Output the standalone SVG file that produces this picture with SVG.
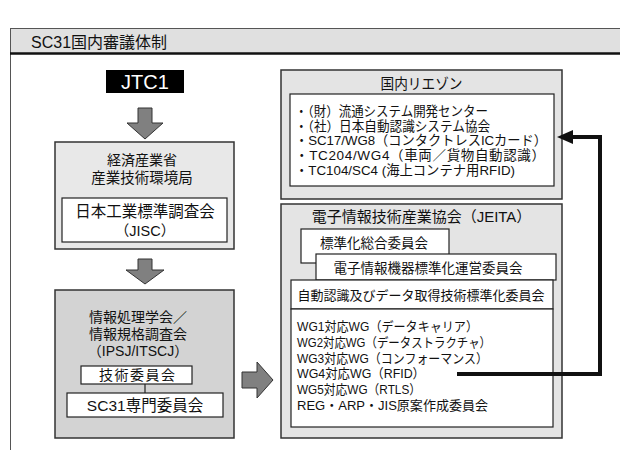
<svg xmlns="http://www.w3.org/2000/svg" width="620" height="450" viewBox="0 0 620 450">
<defs>
<style>
text{font-family:'Liberation Sans','Noto Sans CJK JP',sans-serif;fill:#111}
.c{text-anchor:middle}
.gbox{stroke:#333;stroke-width:1.5}
.wbox{fill:#fff;stroke:#222;stroke-width:1.2}
.blk{fill:#808080;stroke:#333;stroke-width:1}
.t15{font-size:15px}
.t14{font-size:14px}
.t13{font-size:13px}
.t135{font-size:13.5px}
</style>
<marker id="ah" markerUnits="userSpaceOnUse" markerWidth="16" markerHeight="14" viewBox="0 0 16 14" refX="2" refY="7" orient="auto">
<path d="M0,0 L16,7 L0,14 z" fill="#111"/>
</marker>
</defs>
<rect width="620" height="450" fill="#fff"/>
<g id="frame">
<rect x="10.5" y="28.5" width="620" height="25" fill="#e0e0e0" stroke="#555" stroke-width="1"/>
<line x1="10.5" y1="28" x2="10.5" y2="450" stroke="#555" stroke-width="1"/>
<line x1="10" y1="53.5" x2="620" y2="53.5" stroke="#111" stroke-width="2.5"/>
<text x="31" y="48" style="font-size:16px">SC31国内審議体制</text>
</g>
<g id="jtc1">
<rect x="106" y="70" width="78" height="23" fill="#000"/>
<text x="145" y="89" class="c" style="font-size:20px;fill:#fff">JTC1</text>
</g>
<g id="meti">
<rect x="55" y="142" width="179" height="107" fill="#e8e8e8" class="gbox"/>
<text x="142" y="165" class="c" style="font-size:14px">経済産業省</text>
<text x="142" y="183" class="c" style="font-size:14.5px">産業技術環境局</text>
<rect x="62" y="198" width="165" height="44" class="wbox"/>
<text x="145" y="217" class="c" style="font-size:15.5px">日本工業標準調査会</text>
<text x="145" y="236" class="c" style="font-size:14.5px">（JISC）</text>
</g>
<g id="ipsj">
<rect x="55" y="290" width="179" height="148" fill="#d3d3d3" class="gbox"/>
<text x="138" y="322" class="c t14">情報処理学会／</text>
<text x="138" y="339" class="c t14">情報規格調査会</text>
<text x="138" y="356" class="c t14">（IPSJ/ITSCJ）</text>
<rect x="81" y="366" width="111" height="18" class="wbox"/>
<text x="137" y="380" class="c t14" textLength="76" lengthAdjust="spacing">技術委員会</text>
<rect x="67" y="393" width="156" height="24" class="wbox"/>
<text x="145" y="411" class="c" style="font-size:15.5px">SC31専門委員会</text>
</g>
<g id="liaison">
<rect x="281" y="70" width="281" height="129" fill="#e4e4e4" class="gbox"/>
<text x="421.5" y="89" class="c t15" textLength="82" lengthAdjust="spacingAndGlyphs">国内リエゾン</text>
<rect x="290" y="94" width="264" height="92" class="wbox"/>
<text x="295" y="116" class="t135" textLength="193" lengthAdjust="spacingAndGlyphs">・（財）流通システム開発センター</text>
<text x="295" y="131" class="t135" textLength="195" lengthAdjust="spacingAndGlyphs">・（社）日本自動認識システム協会</text>
<text x="295" y="145" class="t135" textLength="252" lengthAdjust="spacingAndGlyphs">・SC17/WG8（コンタクトレスICカード）</text>
<text x="295" y="160" class="t135" textLength="250" lengthAdjust="spacing">・TC204/WG4（車両／貨物自動認識）</text>
<text x="295" y="175" class="t135" textLength="220" lengthAdjust="spacingAndGlyphs">・TC104/SC4 (海上コンテナ用RFID)</text>
</g>
<g id="jeita">
<rect x="281" y="204" width="281" height="234" fill="#e4e4e4" class="gbox"/>
<text x="421.5" y="222" class="c t15">電子情報技術産業協会（JEITA）</text>
<rect x="301" y="229" width="148" height="34" class="wbox"/>
<text x="374" y="248" class="c t135">標準化総合委員会</text>
<rect x="316" y="254" width="240" height="26" class="wbox"/>
<text x="428" y="273" class="c t135">電子情報機器標準化運営委員会</text>
<rect x="291" y="280" width="262" height="29" class="wbox"/>
<text x="421" y="300" class="c t13">自動認識及びデータ取得技術標準化委員会</text>
<rect x="291" y="309" width="262" height="118" class="wbox"/>
<text x="297" y="331" class="t13" textLength="181" lengthAdjust="spacingAndGlyphs">WG1対応WG（データキャリア）</text>
<text x="297" y="347" class="t13" textLength="194" lengthAdjust="spacingAndGlyphs">WG2対応WG（データストラクチャ）</text>
<text x="297" y="363" class="t13" textLength="191" lengthAdjust="spacingAndGlyphs">WG3対応WG（コンフォーマンス）</text>
<text x="297" y="378" class="t13" textLength="128" lengthAdjust="spacingAndGlyphs">WG4対応WG（RFID）</text>
<text x="297" y="394" class="t13" textLength="124" lengthAdjust="spacingAndGlyphs">WG5対応WG（RTLS）</text>
<text x="297" y="410" class="t13" textLength="191" lengthAdjust="spacingAndGlyphs">REG・ARP・JIS原案作成委員会</text>
</g>
<g id="connectors">
<polygon class="blk" points="138,108 152,108 152,123 163,123 145,139 127,123 138,123"/>
<polygon class="blk" points="138,259 152,259 152,270 164,270 145,284 126,270 138,270"/>
<polygon class="blk" points="242,372 257,372 257,362 273,380 257,398 257,388 242,388"/>
<line x1="145" y1="384" x2="145" y2="393" stroke="#222" stroke-width="1.2"/>
<path d="M457,374 H600 V137 H571" fill="none" stroke="#111" stroke-width="4" marker-end="url(#ah)"/>
</g>
</svg>
